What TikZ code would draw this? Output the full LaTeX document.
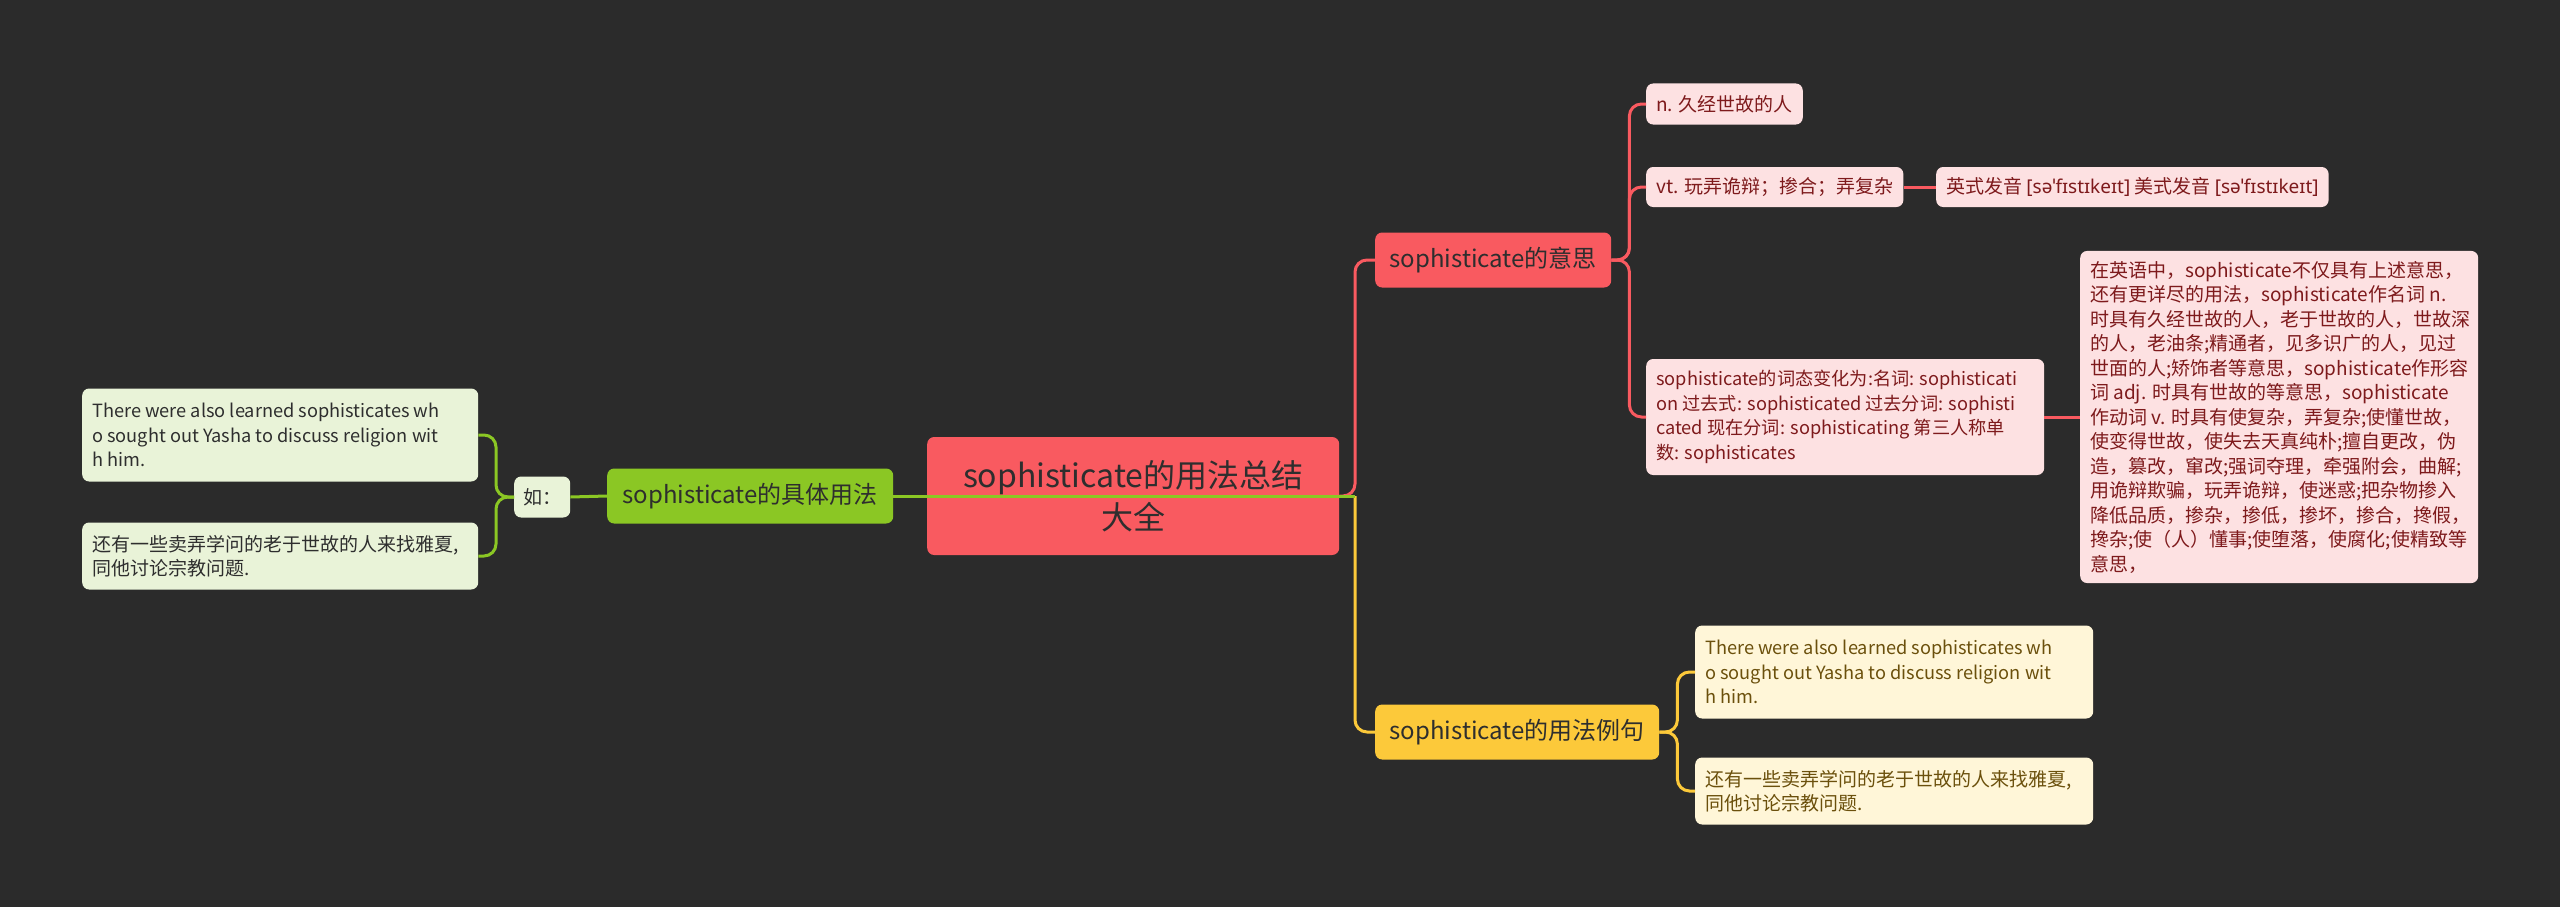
\documentclass[tikz,border=0pt]{standalone}
\usepackage{fontspec}
\setmainfont{Noto Sans CJK SC}
\newfontfamily\ipafont{Noto Sans}
\usetikzlibrary{positioning}

\definecolor{bgdark}{HTML}{2B2B2B}
\definecolor{rootred}{HTML}{F95A60}
\definecolor{redleaf}{HTML}{FDE1E2}
\definecolor{redtext}{HTML}{7E1A1C}
\definecolor{grn}{HTML}{8BC724}
\definecolor{grnleaf}{HTML}{E9F3D8}
\definecolor{yel}{HTML}{FCC93A}
\definecolor{yelleaf}{HTML}{FFF6D8}
\definecolor{yeltext}{HTML}{6B500C}
\definecolor{darktext}{HTML}{2E2E2E}

\begin{document}
\begin{tikzpicture}[x=1pt, y=-1pt,
  box/.style={rounded corners=7, inner xsep=10, inner ysep=10, anchor=west, align=flush left},
  small/.style={font=\fontsize{19}{24.5}\selectfont},
  latin/.style={font=\fontsize{18.2}{24.5}\selectfont},
  wide/.style={text width=378},
  rootbox/.style={box, fill=rootred, text=darktext, align=center,
    minimum width=412, minimum height=118, font=\fontsize{32}{42}\selectfont},
  branch/.style={box, text=darktext, minimum height=55, font=\fontsize{24}{30}\selectfont},
  rleaf/.style={box, small, fill=redleaf, text=redtext},
  gleaf/.style={box, small, fill=grnleaf, text=darktext},
  yleaf/.style={box, small, fill=yelleaf, text=yeltext},
  link/.style={line width=3, rounded corners=12},
  rlink/.style={link, draw=rootred},
  glink/.style={link, draw=grn},
  ylink/.style={link, draw=yel}]
\def\rx{1355}
\def\midy{496}
\fill[bgdark] (0,0) rectangle (2560,907);
\useasboundingbox (0,0) rectangle (2560,907);

\coordinate (rfork) at (\rx,\midy);

% main and first level
\node[rootbox] (root) at (927,\midy) {sophisticate的用法总结\\大全};
\node[branch, fill=grn, minimum width=286] (gbranch) at (607,\midy) {sophisticate的具体用法};
\node[branch, fill=rootred, minimum width=236] (rbranch) at (1375,260) {sophisticate的意思};
\node[branch, fill=yel, minimum width=284] (ybranch) at (1375,732) {sophisticate的用法例句};

% left side
\node[gleaf, minimum height=41, minimum width=56, inner xsep=8] (ru) at (514,497) {如：};
\node[gleaf, latin, text width=376, minimum height=93] (gleafA) at (82,435) {There were also learned sophisticates wh\\o sought out Yasha to discuss religion wit\\h him.};
\node[gleaf, text width=376, minimum height=67] (gleafB) at (82,556) {还有一些卖弄学问的老于世故的人来找雅夏,\\同他讨论宗教问题.};

% meanings
\node[rleaf, minimum height=41] (rn) at (1646,104) {n. 久经世故的人};
\node[rleaf, minimum height=40] (rvt) at (1646,187) {vt. 玩弄诡辩；掺合；弄复杂};
\node[rleaf, minimum height=40] (ripa) at (1936,187) {英式发音 {\ipafont[səˈfɪstɪkeɪt]} 美式发音 {\ipafont[səˈfɪstɪkeɪt]}};
\node[rleaf, latin, wide, minimum height=116] (rforms) at (1646,417) {sophisticate的词态变化为:名词: sophisticati\\on 过去式: sophisticated 过去分词: sophisti\\cated 现在分词: sophisticating 第三人称单\\数: sophisticates};
\node[rleaf, wide] (rmore) at (2080,417) {在英语中，sophisticate不仅具有上述意思，\\还有更详尽的用法，sophisticate作名词 n.\\时具有久经世故的人，老于世故的人，世故深\\的人，老油条;精通者，见多识广的人，见过\\世面的人;矫饰者等意思，sophisticate作形容\\词 adj. 时具有世故的等意思，sophisticate\\作动词 v. 时具有使复杂，弄复杂;使懂世故，\\使变得世故，使失去天真纯朴;擅自更改，伪\\造，篡改，窜改;强词夺理，牵强附会，曲解;\\用诡辩欺骗，玩弄诡辩，使迷惑;把杂物掺入\\降低品质，掺杂，掺低，掺坏，掺合，搀假，\\搀杂;使（人）懂事;使堕落，使腐化;使精致等\\意思，};

% examples
\node[yleaf, latin, wide, minimum height=93] (yleafA) at (1695,672) {There were also learned sophisticates wh\\o sought out Yasha to discuss religion wit\\h him.};
\node[yleaf, wide, minimum height=67] (yleafB) at (1695,791) {还有一些卖弄学问的老于世故的人来找雅夏,\\同他讨论宗教问题.};

% connectors
\draw[rlink] (root.east) -- (rfork) |- (rbranch.west);
\draw[ylink] (rfork) |- (ybranch.west);
\draw[glink] (rfork) -- (gbranch.east);
\draw[glink, opacity=.45] (root.east) -- (root.west);
\draw[glink] (gbranch.west) -- (ru.east);
\draw[glink] (ru.west) -- ++(-18,0) |- (gleafA.east);
\draw[glink] (ru.west) -- ++(-18,0) |- (gleafB.east);
\draw[rlink] (rbranch.east) -- ++(18,0) |- (rn.west);
\draw[rlink] (rbranch.east) -- ++(18,0) |- (rvt.west);
\draw[rlink] (rbranch.east) -- ++(18,0) |- (rforms.west);
\draw[rlink] (rvt.east) -- (ripa.west);
\draw[rlink] (rforms.east) -- (rmore.west);
\draw[ylink] (ybranch.east) -- ++(18,0) |- (yleafA.west);
\draw[ylink] (ybranch.east) -- ++(18,0) |- (yleafB.west);
\end{tikzpicture}
\end{document}
